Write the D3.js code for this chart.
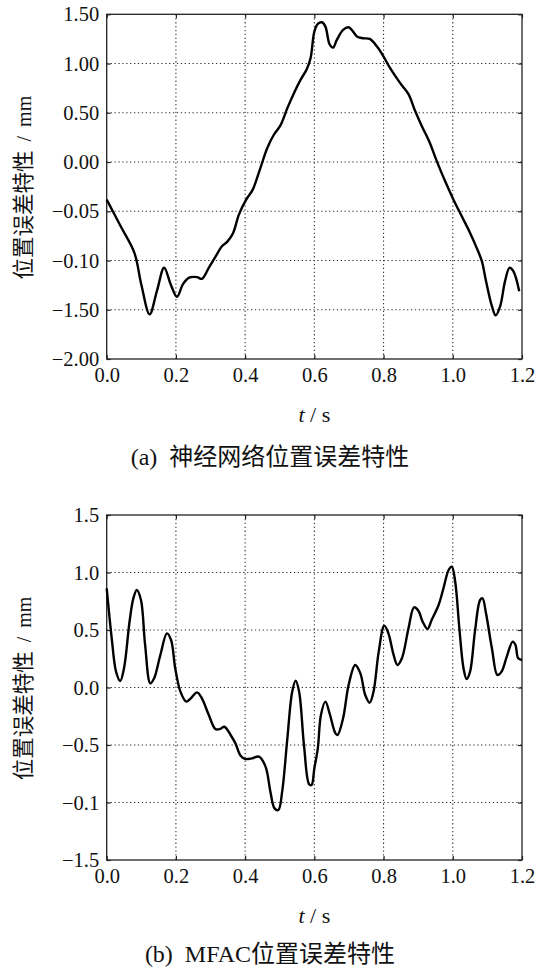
<!DOCTYPE html>
<html>
<head>
<meta charset="utf-8">
<script src="https://cdn.jsdelivr.net/npm/d3@7"></script>
<style>
  html, body { margin: 0; padding: 0; background: #fff; }
  svg { display: block; }
  svg text { font-family: "Liberation Serif", "Times New Roman", Tinos, "DejaVu Serif", "Noto Sans CJK SC", serif; fill: #111; }
</style>
</head>
<body>
<svg id="chart" width="545" height="973"></svg>
<script>
// ---- data ----
const xTicks = [0, 0.2, 0.4, 0.6, 0.8, 1.0, 1.2];
const xTickLabels = ["0.0", "0.2", "0.4", "0.6", "0.8", "1.0", "1.2"];

// Panel (a): axis positions (evenly spaced) and their printed labels
const yTicksA = [-2, -1.5, -1, -0.5, 0, 0.5, 1, 1.5];
const yTickLabelsA = ["\u22122.00", "\u22121.50", "\u22120.10", "\u22120.05", "0.00", "0.50", "1.00", "1.50"];

// Panel (b)
const yTicksB = [-1.5, -1, -0.5, 0, 0.5, 1, 1.5];
const yTickLabelsB = ["\u22121.5", "\u22120.1", "\u22120.5", "0.0", "0.5", "1.0", "1.5"];

// Curve (a): neural network position error
const tA = [0, 0.040, 0.080, 0.100, 0.124, 0.145, 0.166, 0.185, 0.203, 0.220, 0.237, 0.261, 0.275, 0.295, 0.314, 0.333, 0.348, 0.365, 0.382, 0.403, 0.422, 0.444, 0.464, 0.483, 0.502, 0.522, 0.541, 0.560, 0.578, 0.589, 0.600, 0.610, 0.622, 0.632, 0.644, 0.654, 0.665, 0.683, 0.699, 0.712, 0.723, 0.740, 0.760, 0.781, 0.800, 0.819, 0.848, 0.872, 0.891, 0.911, 0.932, 0.954, 0.978, 1.002, 1.026, 1.050, 1.069, 1.084, 1.096, 1.113, 1.124, 1.137, 1.151, 1.164, 1.175, 1.192];
const vA = [-0.382, -0.650, -0.922, -1.243, -1.547, -1.311, -1.074, -1.243, -1.368, -1.243, -1.176, -1.169, -1.186, -1.074, -0.963, -0.855, -0.811, -0.723, -0.534, -0.382, -0.280, -0.061, 0.142, 0.277, 0.372, 0.547, 0.699, 0.834, 0.943, 1.054, 1.324, 1.402, 1.419, 1.375, 1.196, 1.162, 1.240, 1.341, 1.368, 1.324, 1.274, 1.257, 1.250, 1.172, 1.071, 0.953, 0.801, 0.689, 0.520, 0.361, 0.209, 0.007, -0.196, -0.382, -0.551, -0.720, -0.872, -1.007, -1.209, -1.463, -1.557, -1.463, -1.209, -1.074, -1.108, -1.311];

// Curve (b): MFAC position error
const tB = [0, 0.0145, 0.027, 0.039, 0.050, 0.066, 0.077, 0.087, 0.099, 0.111, 0.126, 0.137, 0.155, 0.174, 0.186, 0.198, 0.213, 0.230, 0.243, 0.261, 0.275, 0.295, 0.314, 0.327, 0.340, 0.358, 0.372, 0.387, 0.401, 0.420, 0.440, 0.459, 0.473, 0.485, 0.496, 0.507, 0.522, 0.536, 0.546, 0.556, 0.570, 0.585, 0.592, 0.600, 0.610, 0.619, 0.632, 0.644, 0.661, 0.667, 0.683, 0.699, 0.718, 0.733, 0.747, 0.760, 0.771, 0.786, 0.802, 0.814, 0.829, 0.840, 0.853, 0.872, 0.888, 0.901, 0.913, 0.927, 0.939, 0.959, 0.973, 0.988, 0.997, 1.007, 1.019, 1.031, 1.040, 1.050, 1.064, 1.079, 1.086, 1.096, 1.113, 1.129, 1.141, 1.156, 1.173, 1.181, 1.189, 1.200];
const vB = [0.862, 0.428, 0.138, 0.057, 0.167, 0.572, 0.775, 0.848, 0.761, 0.370, 0.036, 0.080, 0.283, 0.471, 0.413, 0.167, -0.036, -0.123, -0.094, -0.042, -0.094, -0.239, -0.361, -0.361, -0.341, -0.413, -0.486, -0.593, -0.622, -0.616, -0.601, -0.688, -0.906, -1.051, -1.065, -0.906, -0.442, -0.036, 0.059, -0.036, -0.500, -0.842, -0.848, -0.703, -0.529, -0.239, -0.123, -0.225, -0.399, -0.413, -0.268, 0.022, 0.196, 0.123, -0.065, -0.132, -0.036, 0.312, 0.538, 0.471, 0.283, 0.196, 0.254, 0.514, 0.697, 0.665, 0.572, 0.509, 0.587, 0.717, 0.862, 1.022, 1.051, 0.920, 0.514, 0.167, 0.074, 0.138, 0.486, 0.761, 0.775, 0.645, 0.341, 0.109, 0.138, 0.268, 0.399, 0.371, 0.254, 0.239];

const xLabel = "t / s";
const yLabel = "位置误差特性 / mm";
const captionA = "(a)  神经网络位置误差特性";
const captionB = "(b)  MFAC位置误差特性";

// ---- drawing ----
const svg = d3.select("#chart");
const left = 106.7, right = 522;

function panel(cfg) {
  const x = d3.scaleLinear().domain([0, 1.2]).range([left, right]);
  const y = d3.scaleLinear().domain([cfg.yTicks[0], cfg.yTicks[cfg.yTicks.length - 1]]).range([cfg.bottom, cfg.top]);
  const g = svg.append("g");

  // grid
  const grid = g.append("g").attr("stroke", "#333").attr("stroke-width", 1.1).attr("stroke-dasharray", "1.3,2.6");
  grid.selectAll("line.gx").data(xTicks.slice(1, -1)).join("line")
    .attr("x1", d => x(d)).attr("x2", d => x(d)).attr("y1", cfg.top).attr("y2", cfg.bottom);
  grid.selectAll("line.gy").data(cfg.yTicks.slice(1, -1)).join("line")
    .attr("y1", d => y(d)).attr("y2", d => y(d)).attr("x1", left).attr("x2", right);

  const fmtX = (d, i) => xTickLabels[i];
  const fmtY = (d, i) => cfg.yTickLabels[i];

  const axB = g.append("g").attr("transform", `translate(0,${cfg.bottom})`)
    .call(d3.axisBottom(x).tickValues(xTicks).tickFormat(fmtX).tickSize(-4).tickSizeOuter(0).tickPadding(8));
  const axT = g.append("g").attr("transform", `translate(0,${cfg.top})`)
    .call(d3.axisTop(x).tickValues(xTicks).tickFormat("").tickSize(-4).tickSizeOuter(0));
  const axL = g.append("g").attr("transform", `translate(${left},0)`)
    .call(d3.axisLeft(y).tickValues(cfg.yTicks).tickFormat(fmtY).tickSize(-4).tickSizeOuter(0).tickPadding(7.5));
  const axR = g.append("g").attr("transform", `translate(${right},0)`)
    .call(d3.axisRight(y).tickValues(cfg.yTicks).tickFormat("").tickSize(-4).tickSizeOuter(0));
  [axB, axT, axL, axR].forEach(a => {
    a.attr("font-family", null);
    a.select(".domain").remove();
    a.selectAll("line").attr("stroke", "#222").attr("stroke-width", 1.2);
    a.selectAll("text").attr("font-size", 20.5).attr("fill", "#111");
  });

  // frame
  g.append("rect").attr("x", left).attr("y", cfg.top).attr("width", right - left).attr("height", cfg.bottom - cfg.top)
    .attr("fill", "none").attr("stroke", "#222").attr("stroke-width", 1.3);

  // curve
  const pts = cfg.t.map((t, i) => [t, cfg.v[i]]);
  g.append("path").datum(pts)
    .attr("fill", "none").attr("stroke", "#000").attr("stroke-width", 2.4).attr("stroke-linejoin", "round")
    .attr("d", d3.line().x(d => x(d[0])).y(d => y(d[1])).curve(d3.curveCatmullRom.alpha(0.5)));

  // y label
  const cy = (cfg.top + cfg.bottom) / 2 + 1;
  const sp = yLabel.indexOf(" ");
  const yl = g.append("text").attr("transform", `translate(25,${cy}) rotate(-90)`)
    .attr("text-anchor", "middle").attr("dy", "0.35em").style("white-space", "pre");
  yl.append("tspan").attr("font-size", 21.5).text(yLabel.slice(0, sp));
  yl.append("tspan").attr("font-size", 20).attr("word-spacing", 4).text(yLabel.slice(sp));

  // x label
  const xl = g.append("text").attr("x", (left + right) / 2).attr("y", cfg.bottom + 62.5)
    .attr("text-anchor", "middle").attr("font-size", 22).style("white-space", "pre");
  xl.append("tspan").attr("font-style", "italic").text("t");
  xl.append("tspan").text(xLabel.slice(1));

  // caption
  g.append("text").attr("x", 270).attr("y", cfg.captionY).attr("text-anchor", "middle")
    .attr("font-size", 24).style("white-space", "pre").text(cfg.caption);
}

panel({ top: 14.3, bottom: 359, yTicks: yTicksA, yTickLabels: yTickLabelsA, t: tA, v: vA, caption: captionA, captionY: 465 });
panel({ top: 515, bottom: 860, yTicks: yTicksB, yTickLabels: yTickLabelsB, t: tB, v: vB, caption: captionB, captionY: 962 });
</script>
</body>
</html>
